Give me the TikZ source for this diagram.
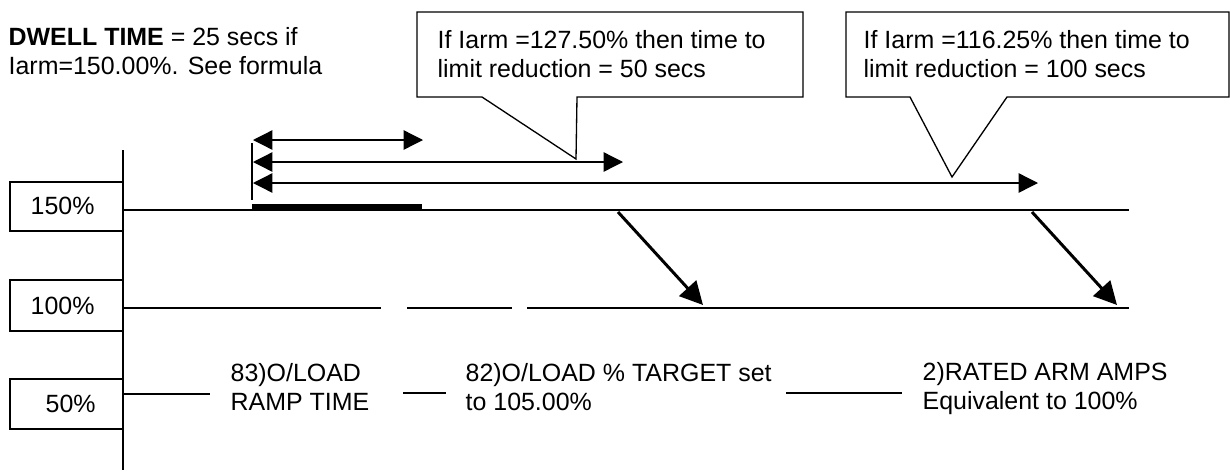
\documentclass[tikz,border=0pt]{standalone}
\usepackage{fontspec}
\setmainfont{Liberation Sans}
\usetikzlibrary{arrows.meta}
\begin{document}
\begin{tikzpicture}[x=0.02cm, y=-0.02cm, line width=0.75pt,
	font=\fontsize{14.2}{16.5}\selectfont,
	lbl/.style={anchor=west, align=left, inner sep=0pt},
	dimarrow/.style={{Triangle[length=11pt,width=11pt]}-{Triangle[length=11pt,width=11pt]}},
	droparrow/.style={-{Triangle[length=13pt,width=13pt]}, line width=1.7pt}]
	\useasboundingbox (0,0) rectangle (1230,474);
	% heading and callouts
	\node[lbl] (dwell) at (8,51) {\textbf{DWELL TIME} = 25 secs if\\Iarm=150.00\%. See formula};
	\draw[fill=white] (417,12) -- (803,12) -- (803,97) -- (577,97) -- (576,159) coordinate (tipA) -- (482,97) -- (417,97) -- cycle;
	\node[lbl] (noteA) at (437,54) {If Iarm =127.50\% then time to\\limit reduction = 50 secs};
	\draw[fill=white] (846,12) -- (1229,12) -- (1229,97) -- (1007,97) -- (952,177) coordinate (tipB) -- (910,97) -- (846,97) -- cycle;
	\node[lbl] (noteB) at (863,54) {If Iarm =116.25\% then time to\\limit reduction = 100 secs};
	% level boxes
	\draw (10,182) rectangle (123,231); \node[lbl] (l150) at (30,206) {150\%};
	\draw (10,280) rectangle (123,331); \node[lbl] (l100) at (30,306) {100\%};
	\draw (10,379) rectangle (123,429); \node[lbl] (l50) at (45,404) {50\%};
	\draw (123,150) coordinate (axtop) -- (123,470) coordinate (axbot);
	% level lines
	\draw (123,210) coordinate (a150) -- (1129,210) coordinate (b150);
	\draw (123,308) coordinate (a100) -- (381,308);
	\draw (407,308) -- (512,308);
	\draw (527,308) -- (1129,308) coordinate (b100);
	% dwell marker and timing arrows
	\draw (252,143) coordinate (mtop) -- (252,200) coordinate (mbot);
	\fill (252,203.5) rectangle (422,210);
	\draw[dimarrow] (253,140) coordinate (s1) -- (423,140) coordinate (e1);
	\draw[dimarrow] (253,162) coordinate (s2) -- (623,162) coordinate (e2);
	\draw[dimarrow] (253,183) coordinate (s3) -- (1038,183) coordinate (e3);
	\draw[droparrow] (618,212) coordinate (dA) -- (703,305) coordinate (fA);
	\draw[droparrow] (1032,212) coordinate (dB) -- (1117,305) coordinate (fB);
	% parameter labels on the 50% level
	\draw (123,394) coordinate (a50) -- (210,394);
	\node[lbl] (p83) at (230,387) {83)O/LOAD\\RAMP TIME};
	\draw (403,393) -- (446,393);
	\node[lbl] (p82) at (465,387) {82)O/LOAD \% TARGET set\\to 105.00\%};
	\draw (786,393) -- (902,393);
	\node[lbl] (p2) at (922,389) {2)RATED ARM AMPS\\Equivalent to 100\%};
\end{tikzpicture}
\end{document}
